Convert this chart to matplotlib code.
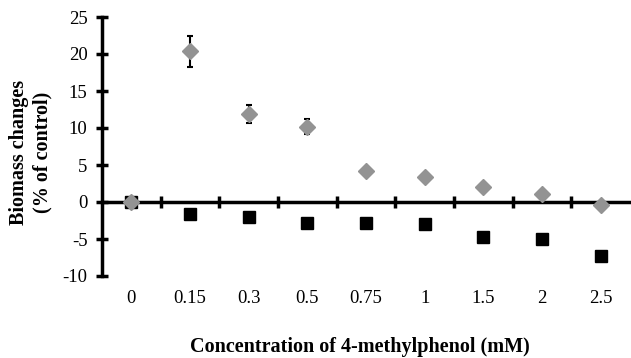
import numpy as np
import matplotlib.pyplot as plt

# concentrations of 4-methylphenol (mM), shown as categories
conc_labels = ["0", "0.15", "0.3", "0.5", "0.75", "1", "1.5", "2", "2.5"]

# biomass changes (% of control)
grey_vals = [0.0, 20.4, 11.9, 10.2, 4.2, 3.4, 2.0, 1.1, -0.4]
grey_err = [0.0, 2.1, 1.2, 1.0, 0.0, 0.0, 0.0, 0.0, 0.0]
black_vals = [0.0, -1.6, -2.0, -2.9, -2.9, -3.0, -4.7, -5.0, -7.3]

y_ticks = [-10, -5, 0, 5, 10, 15, 20, 25]

plt.rcParams["font.family"] = ["Liberation Serif", "DejaVu Serif"]

fig = plt.figure(figsize=(6.31, 3.58), dpi=100)
ax = fig.add_axes([102 / 631, 1 - 276 / 358, 528 / 631, 259 / 358])

x = np.arange(len(conc_labels))

ax.plot(x, black_vals, "s", color="black", markersize=9, zorder=3, clip_on=False)
ax.errorbar(x, grey_vals, yerr=grey_err, fmt="D", color="#939393",
            markersize=8, ecolor="black", elinewidth=1.5, capsize=2.5,
            capthick=1.5, zorder=4, clip_on=False)

ax.set_xlim(-0.5, len(conc_labels) - 0.5)
ax.set_ylim(-10, 25)
ax.set_yticks(y_ticks)
ax.set_yticklabels([str(t) for t in y_ticks], fontsize=13.5)

# category axis crossing at zero, ticks between categories
for s in ["top", "right"]:
    ax.spines[s].set_visible(False)
ax.spines["bottom"].set_position(("data", 0))
ax.spines["left"].set_linewidth(2.5)
ax.spines["bottom"].set_linewidth(2.5)
ax.set_xticks(x[:-1] + 0.5)
ax.set_xticklabels([])
ax.tick_params(axis="x", direction="inout", length=9, width=2.5)
ax.tick_params(axis="y", direction="inout", length=9, width=2.5, pad=6)

for xi, lab in zip(x, conc_labels):
    ax.annotate(lab, xy=(xi, -10), xytext=(0, -16), textcoords="offset points",
                ha="center", va="center", fontsize=13.5, annotation_clip=False)

fig.text(31 / 631, 1 - 152 / 358, "Biomass changes\n(% of control)",
         rotation=90, ha="center", va="center", fontsize=14.5,
         fontweight="bold", multialignment="center")
fig.text(360 / 631, 1 - 347 / 358, "Concentration of 4-methylphenol (mM)",
         ha="center", va="center", fontsize=14.5, fontweight="bold")

fig.savefig("out.png", dpi=100)
